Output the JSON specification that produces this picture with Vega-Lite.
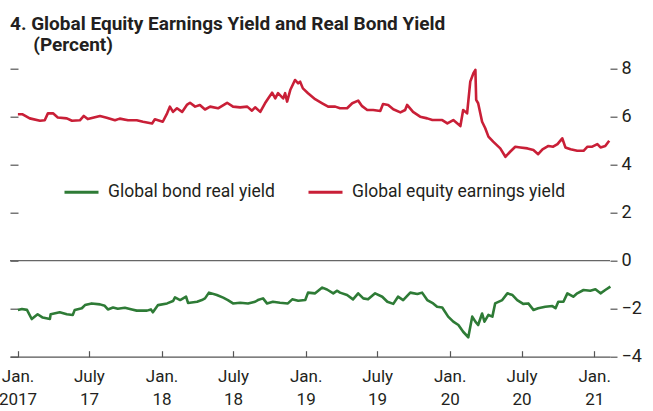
{
  "$schema": "https://vega.github.io/schema/vega-lite/v6.json",
  "width": 600,
  "height": 288,
  "autosize": {"type": "none"},
  "padding": {"left": 10, "top": 68.7, "right": 43, "bottom": 54.3},
  "background": "white",
  "title": {
    "text": ["4. Global Equity Earnings Yield and Real Bond Yield", "\u200b\u2002\u2002\u2009(Percent)"],
    "anchor": "start",
    "frame": "group",
    "font": "Roboto",
    "fontSize": 19,
    "fontWeight": "bold",
    "color": "#231F20",
    "lineHeight": 21,
    "offset": 5
  },
  "config": {
    "view": {"stroke": null},
    "font": "Roboto",
    "axis": {"labelFont": "Roboto", "labelColor": "#231F20", "tickColor": "#555555", "domainColor": "#555555", "grid": false, "title": null}
  },
  "layer": [
    {
      "data": {"values": [{"level": 0}]},
      "mark": {"type": "rule", "color": "#666666", "strokeWidth": 1.2},
      "encoding": {
        "y": {
          "field": "level", "type": "quantitative",
          "scale": {"domain": [-4, 8], "nice": false, "zero": false},
          "axis": {"orient": "left", "values": [-4, -2, 0, 2, 4, 6, 8], "labels": false, "domain": false, "ticks": true, "tickSize": 8, "offset": -8, "tickWidth": 1.2}
        }
      }
    },
    {
      "data": {"values": [
        {"series": "Global equity earnings yield", "date": "2017-01-02", "value": 6.1},
        {"series": "Global equity earnings yield", "date": "2017-01-14", "value": 6.1},
        {"series": "Global equity earnings yield", "date": "2017-02-01", "value": 5.93},
        {"series": "Global equity earnings yield", "date": "2017-02-27", "value": 5.83},
        {"series": "Global equity earnings yield", "date": "2017-03-11", "value": 5.85},
        {"series": "Global equity earnings yield", "date": "2017-03-19", "value": 6.14},
        {"series": "Global equity earnings yield", "date": "2017-04-01", "value": 6.14},
        {"series": "Global equity earnings yield", "date": "2017-04-13", "value": 5.97},
        {"series": "Global equity earnings yield", "date": "2017-05-06", "value": 5.93},
        {"series": "Global equity earnings yield", "date": "2017-05-19", "value": 5.83},
        {"series": "Global equity earnings yield", "date": "2017-06-08", "value": 5.85},
        {"series": "Global equity earnings yield", "date": "2017-06-18", "value": 6.03},
        {"series": "Global equity earnings yield", "date": "2017-06-28", "value": 5.9},
        {"series": "Global equity earnings yield", "date": "2017-07-29", "value": 6.03},
        {"series": "Global equity earnings yield", "date": "2017-08-15", "value": 5.96},
        {"series": "Global equity earnings yield", "date": "2017-09-05", "value": 5.85},
        {"series": "Global equity earnings yield", "date": "2017-09-17", "value": 5.92},
        {"series": "Global equity earnings yield", "date": "2017-10-08", "value": 5.85},
        {"series": "Global equity earnings yield", "date": "2017-10-30", "value": 5.85},
        {"series": "Global equity earnings yield", "date": "2017-11-15", "value": 5.79},
        {"series": "Global equity earnings yield", "date": "2017-12-08", "value": 5.72},
        {"series": "Global equity earnings yield", "date": "2017-12-15", "value": 5.89},
        {"series": "Global equity earnings yield", "date": "2018-01-04", "value": 5.79},
        {"series": "Global equity earnings yield", "date": "2018-01-15", "value": 6.14},
        {"series": "Global equity earnings yield", "date": "2018-01-22", "value": 6.42},
        {"series": "Global equity earnings yield", "date": "2018-01-30", "value": 6.2},
        {"series": "Global equity earnings yield", "date": "2018-02-09", "value": 6.35},
        {"series": "Global equity earnings yield", "date": "2018-02-22", "value": 6.2},
        {"series": "Global equity earnings yield", "date": "2018-03-06", "value": 6.49},
        {"series": "Global equity earnings yield", "date": "2018-03-14", "value": 6.58},
        {"series": "Global equity earnings yield", "date": "2018-03-27", "value": 6.42},
        {"series": "Global equity earnings yield", "date": "2018-04-08", "value": 6.49},
        {"series": "Global equity earnings yield", "date": "2018-04-21", "value": 6.3},
        {"series": "Global equity earnings yield", "date": "2018-05-04", "value": 6.42},
        {"series": "Global equity earnings yield", "date": "2018-05-24", "value": 6.35},
        {"series": "Global equity earnings yield", "date": "2018-06-16", "value": 6.58},
        {"series": "Global equity earnings yield", "date": "2018-07-01", "value": 6.42},
        {"series": "Global equity earnings yield", "date": "2018-07-19", "value": 6.39},
        {"series": "Global equity earnings yield", "date": "2018-08-06", "value": 6.42},
        {"series": "Global equity earnings yield", "date": "2018-08-18", "value": 6.25},
        {"series": "Global equity earnings yield", "date": "2018-08-26", "value": 6.39},
        {"series": "Global equity earnings yield", "date": "2018-09-08", "value": 6.2},
        {"series": "Global equity earnings yield", "date": "2018-09-20", "value": 6.56},
        {"series": "Global equity earnings yield", "date": "2018-09-28", "value": 6.76},
        {"series": "Global equity earnings yield", "date": "2018-10-08", "value": 7.0},
        {"series": "Global equity earnings yield", "date": "2018-10-16", "value": 6.76},
        {"series": "Global equity earnings yield", "date": "2018-10-23", "value": 6.98},
        {"series": "Global equity earnings yield", "date": "2018-11-05", "value": 6.76},
        {"series": "Global equity earnings yield", "date": "2018-11-10", "value": 6.98},
        {"series": "Global equity earnings yield", "date": "2018-11-15", "value": 6.63},
        {"series": "Global equity earnings yield", "date": "2018-11-23", "value": 7.11},
        {"series": "Global equity earnings yield", "date": "2018-12-05", "value": 7.53},
        {"series": "Global equity earnings yield", "date": "2018-12-13", "value": 7.39},
        {"series": "Global equity earnings yield", "date": "2018-12-18", "value": 7.46},
        {"series": "Global equity earnings yield", "date": "2018-12-25", "value": 7.18},
        {"series": "Global equity earnings yield", "date": "2019-01-07", "value": 6.98},
        {"series": "Global equity earnings yield", "date": "2019-01-25", "value": 6.73},
        {"series": "Global equity earnings yield", "date": "2019-02-12", "value": 6.56},
        {"series": "Global equity earnings yield", "date": "2019-02-27", "value": 6.42},
        {"series": "Global equity earnings yield", "date": "2019-03-17", "value": 6.42},
        {"series": "Global equity earnings yield", "date": "2019-03-29", "value": 6.35},
        {"series": "Global equity earnings yield", "date": "2019-04-16", "value": 6.35},
        {"series": "Global equity earnings yield", "date": "2019-04-29", "value": 6.56},
        {"series": "Global equity earnings yield", "date": "2019-05-14", "value": 6.67},
        {"series": "Global equity earnings yield", "date": "2019-05-24", "value": 6.44},
        {"series": "Global equity earnings yield", "date": "2019-06-06", "value": 6.28},
        {"series": "Global equity earnings yield", "date": "2019-06-21", "value": 6.28},
        {"series": "Global equity earnings yield", "date": "2019-07-09", "value": 6.24},
        {"series": "Global equity earnings yield", "date": "2019-07-16", "value": 6.53},
        {"series": "Global equity earnings yield", "date": "2019-07-29", "value": 6.49},
        {"series": "Global equity earnings yield", "date": "2019-08-11", "value": 6.31},
        {"series": "Global equity earnings yield", "date": "2019-08-29", "value": 6.18},
        {"series": "Global equity earnings yield", "date": "2019-09-10", "value": 6.28},
        {"series": "Global equity earnings yield", "date": "2019-09-15", "value": 6.49},
        {"series": "Global equity earnings yield", "date": "2019-09-30", "value": 6.2},
        {"series": "Global equity earnings yield", "date": "2019-10-18", "value": 6.0},
        {"series": "Global equity earnings yield", "date": "2019-11-05", "value": 5.93},
        {"series": "Global equity earnings yield", "date": "2019-11-18", "value": 5.86},
        {"series": "Global equity earnings yield", "date": "2019-12-13", "value": 5.86},
        {"series": "Global equity earnings yield", "date": "2019-12-26", "value": 5.72},
        {"series": "Global equity earnings yield", "date": "2020-01-10", "value": 5.86},
        {"series": "Global equity earnings yield", "date": "2020-01-28", "value": 5.61},
        {"series": "Global equity earnings yield", "date": "2020-02-04", "value": 6.28},
        {"series": "Global equity earnings yield", "date": "2020-02-14", "value": 6.14},
        {"series": "Global equity earnings yield", "date": "2020-02-22", "value": 7.46},
        {"series": "Global equity earnings yield", "date": "2020-03-01", "value": 7.81},
        {"series": "Global equity earnings yield", "date": "2020-03-06", "value": 7.95},
        {"series": "Global equity earnings yield", "date": "2020-03-08", "value": 6.7},
        {"series": "Global equity earnings yield", "date": "2020-03-13", "value": 6.56},
        {"series": "Global equity earnings yield", "date": "2020-03-23", "value": 5.79},
        {"series": "Global equity earnings yield", "date": "2020-03-31", "value": 5.52},
        {"series": "Global equity earnings yield", "date": "2020-04-08", "value": 5.17},
        {"series": "Global equity earnings yield", "date": "2020-04-20", "value": 4.96},
        {"series": "Global equity earnings yield", "date": "2020-05-08", "value": 4.68},
        {"series": "Global equity earnings yield", "date": "2020-05-21", "value": 4.33},
        {"series": "Global equity earnings yield", "date": "2020-06-02", "value": 4.54},
        {"series": "Global equity earnings yield", "date": "2020-06-15", "value": 4.75},
        {"series": "Global equity earnings yield", "date": "2020-06-28", "value": 4.72},
        {"series": "Global equity earnings yield", "date": "2020-07-16", "value": 4.68},
        {"series": "Global equity earnings yield", "date": "2020-07-31", "value": 4.61},
        {"series": "Global equity earnings yield", "date": "2020-08-12", "value": 4.44},
        {"series": "Global equity earnings yield", "date": "2020-08-23", "value": 4.64},
        {"series": "Global equity earnings yield", "date": "2020-09-07", "value": 4.78},
        {"series": "Global equity earnings yield", "date": "2020-09-19", "value": 4.75},
        {"series": "Global equity earnings yield", "date": "2020-09-30", "value": 4.86},
        {"series": "Global equity earnings yield", "date": "2020-10-12", "value": 5.1},
        {"series": "Global equity earnings yield", "date": "2020-10-20", "value": 4.72},
        {"series": "Global equity earnings yield", "date": "2020-11-02", "value": 4.64},
        {"series": "Global equity earnings yield", "date": "2020-11-19", "value": 4.58},
        {"series": "Global equity earnings yield", "date": "2020-12-05", "value": 4.58},
        {"series": "Global equity earnings yield", "date": "2020-12-15", "value": 4.75},
        {"series": "Global equity earnings yield", "date": "2020-12-27", "value": 4.75},
        {"series": "Global equity earnings yield", "date": "2021-01-09", "value": 4.86},
        {"series": "Global equity earnings yield", "date": "2021-01-17", "value": 4.72},
        {"series": "Global equity earnings yield", "date": "2021-01-29", "value": 4.78},
        {"series": "Global equity earnings yield", "date": "2021-02-08", "value": 5.0},
        {"series": "Global bond real yield", "date": "2017-01-02", "value": -2.05},
        {"series": "Global bond real yield", "date": "2017-01-12", "value": -2.01},
        {"series": "Global bond real yield", "date": "2017-01-25", "value": -2.05},
        {"series": "Global bond real yield", "date": "2017-02-06", "value": -2.43},
        {"series": "Global bond real yield", "date": "2017-02-21", "value": -2.23},
        {"series": "Global bond real yield", "date": "2017-03-06", "value": -2.37},
        {"series": "Global bond real yield", "date": "2017-03-24", "value": -2.43},
        {"series": "Global bond real yield", "date": "2017-03-26", "value": -2.23},
        {"series": "Global bond real yield", "date": "2017-04-18", "value": -2.15},
        {"series": "Global bond real yield", "date": "2017-05-06", "value": -2.23},
        {"series": "Global bond real yield", "date": "2017-05-21", "value": -2.26},
        {"series": "Global bond real yield", "date": "2017-05-26", "value": -2.05},
        {"series": "Global bond real yield", "date": "2017-06-13", "value": -1.98},
        {"series": "Global bond real yield", "date": "2017-06-21", "value": -1.85},
        {"series": "Global bond real yield", "date": "2017-07-08", "value": -1.78},
        {"series": "Global bond real yield", "date": "2017-07-29", "value": -1.82},
        {"series": "Global bond real yield", "date": "2017-08-10", "value": -1.88},
        {"series": "Global bond real yield", "date": "2017-08-18", "value": -2.03},
        {"series": "Global bond real yield", "date": "2017-08-31", "value": -1.95},
        {"series": "Global bond real yield", "date": "2017-09-12", "value": -2.0},
        {"series": "Global bond real yield", "date": "2017-09-30", "value": -1.96},
        {"series": "Global bond real yield", "date": "2017-10-18", "value": -2.03},
        {"series": "Global bond real yield", "date": "2017-10-30", "value": -2.08},
        {"series": "Global bond real yield", "date": "2017-11-25", "value": -2.08},
        {"series": "Global bond real yield", "date": "2017-12-05", "value": -2.03},
        {"series": "Global bond real yield", "date": "2017-12-10", "value": -2.15},
        {"series": "Global bond real yield", "date": "2017-12-23", "value": -1.85},
        {"series": "Global bond real yield", "date": "2018-01-15", "value": -1.78},
        {"series": "Global bond real yield", "date": "2018-01-30", "value": -1.68},
        {"series": "Global bond real yield", "date": "2018-02-04", "value": -1.53},
        {"series": "Global bond real yield", "date": "2018-02-17", "value": -1.64},
        {"series": "Global bond real yield", "date": "2018-03-04", "value": -1.5},
        {"series": "Global bond real yield", "date": "2018-03-09", "value": -1.76},
        {"series": "Global bond real yield", "date": "2018-04-01", "value": -1.71},
        {"series": "Global bond real yield", "date": "2018-04-13", "value": -1.64},
        {"series": "Global bond real yield", "date": "2018-04-21", "value": -1.57},
        {"series": "Global bond real yield", "date": "2018-05-01", "value": -1.33},
        {"series": "Global bond real yield", "date": "2018-05-21", "value": -1.43},
        {"series": "Global bond real yield", "date": "2018-06-06", "value": -1.54},
        {"series": "Global bond real yield", "date": "2018-06-18", "value": -1.64},
        {"series": "Global bond real yield", "date": "2018-07-01", "value": -1.78},
        {"series": "Global bond real yield", "date": "2018-07-19", "value": -1.75},
        {"series": "Global bond real yield", "date": "2018-08-08", "value": -1.78},
        {"series": "Global bond real yield", "date": "2018-08-26", "value": -1.71},
        {"series": "Global bond real yield", "date": "2018-09-02", "value": -1.64},
        {"series": "Global bond real yield", "date": "2018-09-15", "value": -1.57},
        {"series": "Global bond real yield", "date": "2018-09-25", "value": -1.78},
        {"series": "Global bond real yield", "date": "2018-10-10", "value": -1.71},
        {"series": "Global bond real yield", "date": "2018-10-28", "value": -1.75},
        {"series": "Global bond real yield", "date": "2018-11-17", "value": -1.78},
        {"series": "Global bond real yield", "date": "2018-11-28", "value": -1.61},
        {"series": "Global bond real yield", "date": "2018-12-13", "value": -1.67},
        {"series": "Global bond real yield", "date": "2018-12-31", "value": -1.64},
        {"series": "Global bond real yield", "date": "2019-01-07", "value": -1.33},
        {"series": "Global bond real yield", "date": "2019-01-25", "value": -1.36},
        {"series": "Global bond real yield", "date": "2019-02-12", "value": -1.12},
        {"series": "Global bond real yield", "date": "2019-02-24", "value": -1.2},
        {"series": "Global bond real yield", "date": "2019-03-12", "value": -1.36},
        {"series": "Global bond real yield", "date": "2019-03-22", "value": -1.25},
        {"series": "Global bond real yield", "date": "2019-03-29", "value": -1.33},
        {"series": "Global bond real yield", "date": "2019-04-16", "value": -1.43},
        {"series": "Global bond real yield", "date": "2019-05-01", "value": -1.61},
        {"series": "Global bond real yield", "date": "2019-05-14", "value": -1.36},
        {"series": "Global bond real yield", "date": "2019-05-27", "value": -1.57},
        {"series": "Global bond real yield", "date": "2019-06-08", "value": -1.61},
        {"series": "Global bond real yield", "date": "2019-06-26", "value": -1.36},
        {"series": "Global bond real yield", "date": "2019-07-14", "value": -1.5},
        {"series": "Global bond real yield", "date": "2019-07-27", "value": -1.71},
        {"series": "Global bond real yield", "date": "2019-08-11", "value": -1.8},
        {"series": "Global bond real yield", "date": "2019-08-23", "value": -1.5},
        {"series": "Global bond real yield", "date": "2019-09-05", "value": -1.64},
        {"series": "Global bond real yield", "date": "2019-09-23", "value": -1.33},
        {"series": "Global bond real yield", "date": "2019-10-11", "value": -1.39},
        {"series": "Global bond real yield", "date": "2019-10-23", "value": -1.33},
        {"series": "Global bond real yield", "date": "2019-11-05", "value": -1.64},
        {"series": "Global bond real yield", "date": "2019-11-20", "value": -1.78},
        {"series": "Global bond real yield", "date": "2019-11-30", "value": -1.92},
        {"series": "Global bond real yield", "date": "2019-12-13", "value": -1.95},
        {"series": "Global bond real yield", "date": "2019-12-28", "value": -2.33},
        {"series": "Global bond real yield", "date": "2020-01-10", "value": -2.54},
        {"series": "Global bond real yield", "date": "2020-01-23", "value": -2.68},
        {"series": "Global bond real yield", "date": "2020-02-04", "value": -2.96},
        {"series": "Global bond real yield", "date": "2020-02-17", "value": -3.19},
        {"series": "Global bond real yield", "date": "2020-02-27", "value": -2.33},
        {"series": "Global bond real yield", "date": "2020-03-06", "value": -2.54},
        {"series": "Global bond real yield", "date": "2020-03-13", "value": -2.68},
        {"series": "Global bond real yield", "date": "2020-03-23", "value": -2.2},
        {"series": "Global bond real yield", "date": "2020-03-29", "value": -2.54},
        {"series": "Global bond real yield", "date": "2020-04-08", "value": -2.26},
        {"series": "Global bond real yield", "date": "2020-04-18", "value": -2.33},
        {"series": "Global bond real yield", "date": "2020-04-25", "value": -1.78},
        {"series": "Global bond real yield", "date": "2020-05-13", "value": -1.64},
        {"series": "Global bond real yield", "date": "2020-05-26", "value": -1.36},
        {"series": "Global bond real yield", "date": "2020-06-08", "value": -1.43},
        {"series": "Global bond real yield", "date": "2020-06-20", "value": -1.64},
        {"series": "Global bond real yield", "date": "2020-07-05", "value": -1.8},
        {"series": "Global bond real yield", "date": "2020-07-18", "value": -1.78},
        {"series": "Global bond real yield", "date": "2020-07-31", "value": -2.05},
        {"series": "Global bond real yield", "date": "2020-08-12", "value": -1.98},
        {"series": "Global bond real yield", "date": "2020-08-30", "value": -1.92},
        {"series": "Global bond real yield", "date": "2020-09-17", "value": -1.89},
        {"series": "Global bond real yield", "date": "2020-09-25", "value": -1.98},
        {"series": "Global bond real yield", "date": "2020-10-02", "value": -1.71},
        {"series": "Global bond real yield", "date": "2020-10-15", "value": -1.71},
        {"series": "Global bond real yield", "date": "2020-10-25", "value": -1.36},
        {"series": "Global bond real yield", "date": "2020-11-09", "value": -1.5},
        {"series": "Global bond real yield", "date": "2020-11-19", "value": -1.36},
        {"series": "Global bond real yield", "date": "2020-12-05", "value": -1.22},
        {"series": "Global bond real yield", "date": "2020-12-22", "value": -1.25},
        {"series": "Global bond real yield", "date": "2021-01-04", "value": -1.19},
        {"series": "Global bond real yield", "date": "2021-01-17", "value": -1.36},
        {"series": "Global bond real yield", "date": "2021-01-29", "value": -1.22},
        {"series": "Global bond real yield", "date": "2021-02-11", "value": -1.08}
      ]},
      "mark": {"type": "line", "strokeWidth": 2.6, "strokeJoin": "round"},
      "encoding": {
        "x": {
          "field": "date", "type": "temporal",
          "scale": {"type": "utc", "domain": [{"year": 2016, "month": 12, "date": 13, "utc": true}, {"year": 2021, "month": 2, "date": 10, "utc": true}]},
          "axis": {
            "values": [
              {"year": 2017, "month": 1, "date": 1, "utc": true},
              {"year": 2017, "month": 7, "date": 1, "utc": true},
              {"year": 2018, "month": 1, "date": 1, "utc": true},
              {"year": 2018, "month": 7, "date": 1, "utc": true},
              {"year": 2019, "month": 1, "date": 1, "utc": true},
              {"year": 2019, "month": 7, "date": 1, "utc": true},
              {"year": 2020, "month": 1, "date": 1, "utc": true},
              {"year": 2020, "month": 7, "date": 1, "utc": true},
              {"year": 2021, "month": 1, "date": 1, "utc": true}
            ],
            "labelExpr": "utcmonth(datum.value) == 0 ? ['Jan.', utcyear(datum.value) == 2017 ? '2017' : substring(toString(utcyear(datum.value)), 2)] : ['July', substring(toString(utcyear(datum.value)), 2)]",
            "tickSize": -6,
            "tickWidth": 1.2,
            "domainWidth": 1.2,
            "labelPadding": 18,
            "labelFontSize": 17,
            "labelLineHeight": 23,
            "labelBaseline": "top",
            "labelAlign": "center",
            "labelFlush": false,
            "labelOverlap": false,
            "labelBound": false
          }
        },
        "y": {
          "field": "value", "type": "quantitative",
          "scale": {"domain": [-4, 8], "nice": false, "zero": false},
          "axis": {"orient": "right", "values": [-4, -2, 0, 2, 4, 6, 8], "domain": false, "tickSize": 7, "tickWidth": 1.2, "labelPadding": 4, "labelFontSize": 18, "labelBaseline": "middle", "labelFlush": false, "labelOverlap": false}
        },
        "color": {
          "field": "series", "type": "nominal",
          "scale": {"domain": ["Global bond real yield", "Global equity earnings yield"], "range": ["#2E7B36", "#C91F37"]},
          "legend": {
            "orient": "none", "legendX": 53, "legendY": 105, "direction": "horizontal", "title": null,
            "symbolType": "stroke", "symbolSize": 1156, "symbolStrokeWidth": 3,
            "labelFont": "Roboto", "labelFontSize": 17.5, "labelColor": "#231F20", "labelLimit": 400,
            "labelOffset": 8, "columnPadding": 27, "padding": 0
          }
        }
      }
    }
  ],
  "resolve": {"scale": {"y": "independent"}, "axis": {"y": "independent"}}
}
